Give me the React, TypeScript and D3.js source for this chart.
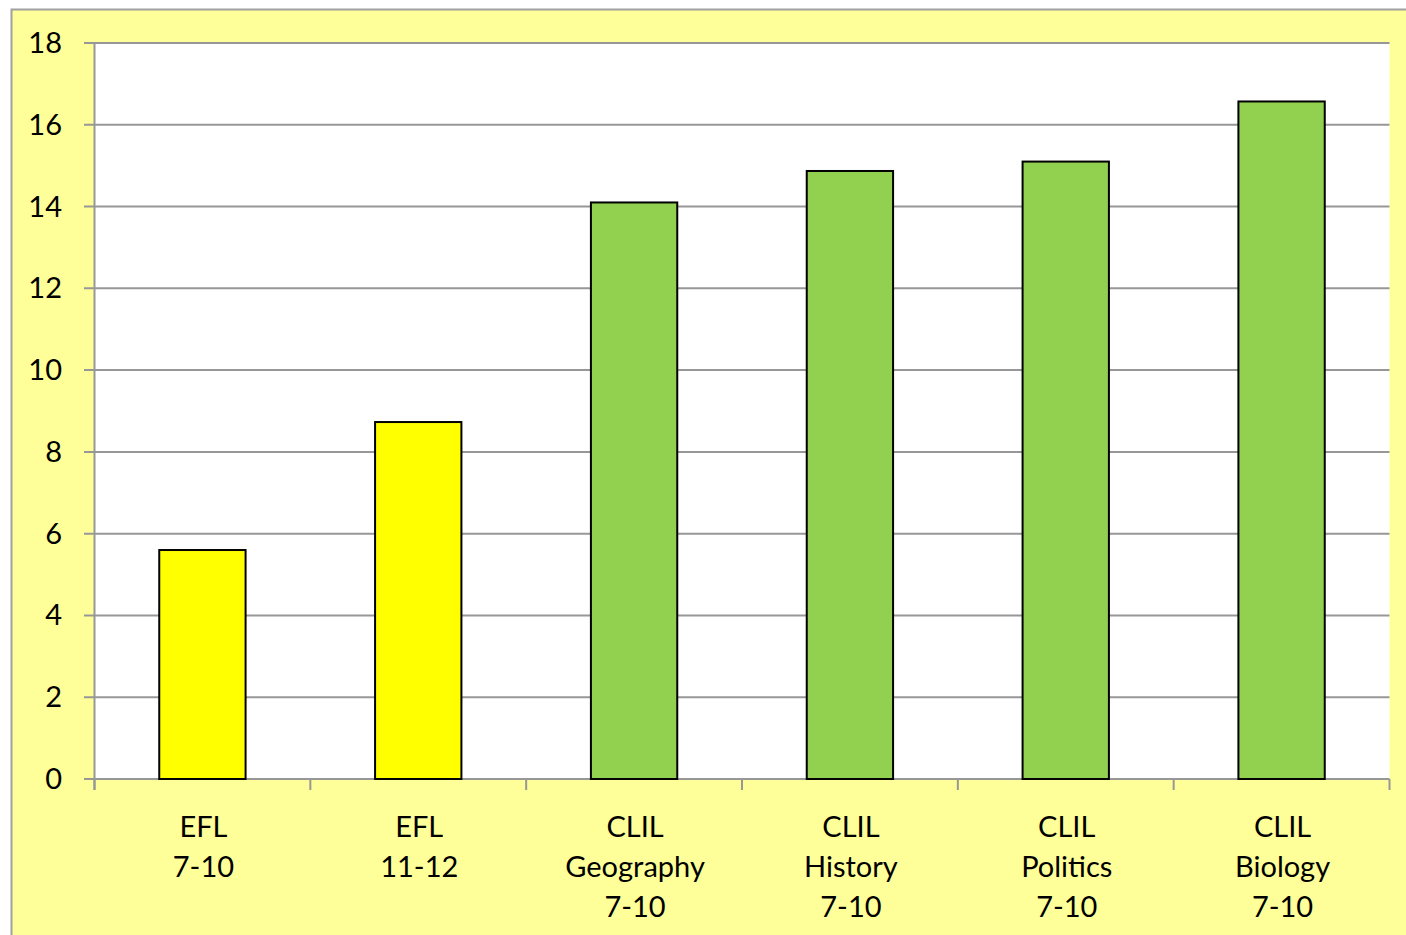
import React from "react";
import * as d3 from "d3";

const categories: string[][] = [
  ["EFL", "7-10"],
  ["EFL", "11-12"],
  ["CLIL", "Geography", "7-10"],
  ["CLIL", "History", "7-10"],
  ["CLIL", "Politics", "7-10"],
  ["CLIL", "Biology", "7-10"],
];
const values: number[] = [5.6, 8.73, 14.1, 14.87, 15.1, 16.57];
const barColors: string[] = ["#FFFF00", "#FFFF00", "#92D050", "#92D050", "#92D050", "#92D050"];
const yTicks: number[] = [0, 2, 4, 6, 8, 10, 12, 14, 16, 18];

export default function App() {
  const W = 1406, H = 935;
  const left = 94.5, right = 1389.5, top = 43, bottom = 779;
  const x = d3.scaleBand<number>().domain(d3.range(categories.length)).range([left, right]).paddingInner(0.6).paddingOuter(0.3);
  const xb = d3.scaleBand<number>().domain(d3.range(categories.length)).range([left, right]).padding(0);
  const y = d3.scaleLinear().domain([0, 18]).range([bottom, top]);
  const font = "Lato, 'Open Sans', sans-serif";
  const grid = "#979797";
  return (
    <div style={{ position: "fixed", left: 0, top: 0 }}>
      <svg width={W} height={H} style={{ display: "block" }}>
        <rect x={0} y={0} width={W} height={H} fill="#FFFFFF" />
        <rect x={11.5} y={9.5} width={1600} height={1200} fill="#FFFF99" stroke="#A0A0A0" strokeWidth={2} />
        <rect x={left} y={top} width={right - left} height={bottom - top} fill="#FFFFFF" />
        {yTicks.map((t) => (
          <g key={t}>
            <line x1={84} x2={right} y1={y(t)} y2={y(t)} stroke={grid} strokeWidth={2} />
            <text x={62} y={y(t) + 10} textAnchor="end" fontFamily={font} fontSize={29} fill="#000">
              {t}
            </text>
          </g>
        ))}
        <line x1={left} x2={left} y1={top} y2={790} stroke={grid} strokeWidth={2} />
        {d3.range(categories.length + 1).map((i) => {
          const xx = left + i * xb.bandwidth();
          return <line key={i} x1={xx} x2={xx} y1={bottom} y2={790} stroke={grid} strokeWidth={2} />;
        })}
        {values.map((v, i) => (
          <rect key={i} x={x(i)!} y={y(v)} width={x.bandwidth()} height={bottom - y(v)} fill={barColors[i]} stroke="#000" strokeWidth={2} />
        ))}
        {categories.map((lines, i) => (
          <text key={i} textAnchor="middle" fontFamily={font} fontSize={29} fill="#000">
            {lines.map((l, j) => (
              <tspan key={j} x={xb(i)! + xb.bandwidth() / 2 + 1} y={837 + j * 40}>
                {l}
              </tspan>
            ))}
          </text>
        ))}
      </svg>
    </div>
  );
}
